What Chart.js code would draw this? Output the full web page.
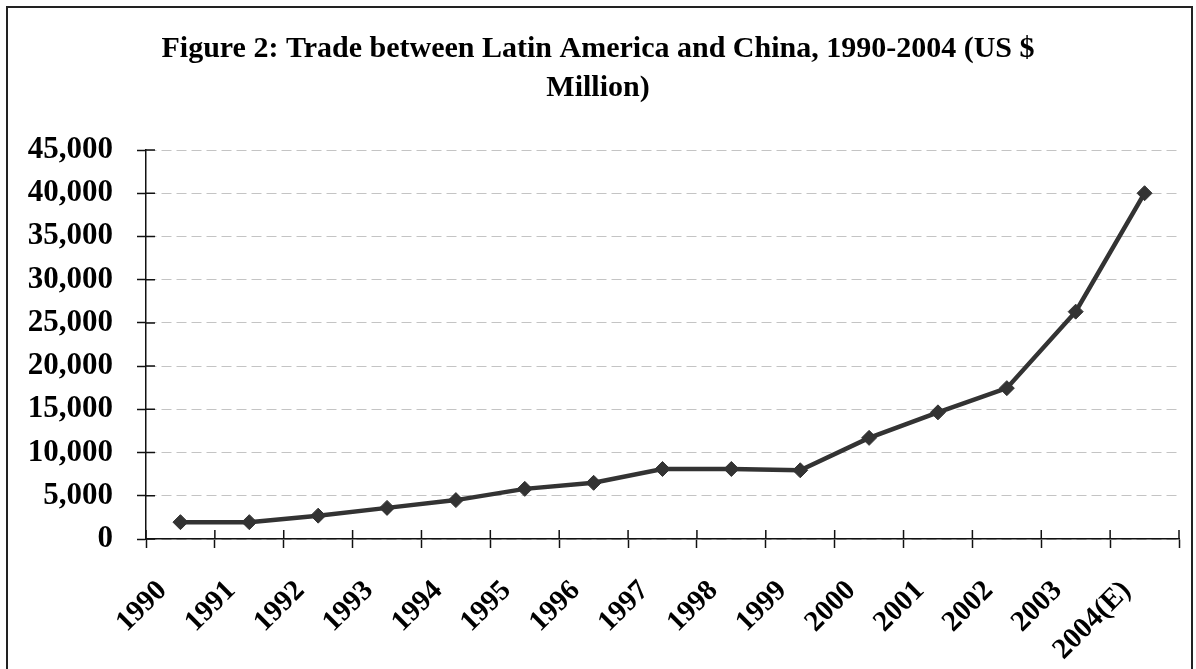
<!DOCTYPE html>
<html>
<head>
    <title>Trade between Latin America and China</title>
    <script src="https://cdn.jsdelivr.net/npm/chart.js"></script>
    <style>
        html, body { margin: 0; padding: 0; background: #fff; overflow: hidden; }
        #wrap { position: relative; width: 1196px; height: 669px; }
        #frame { position: absolute; left: 6px; top: 6px; width: 1187px; height: 680px; border: 2px solid #222; box-sizing: border-box; }
        canvas { position: absolute; left: 0; top: 0; }
    </style>
</head>
<body>
<div id="wrap">
    <div id="frame"></div>
    <canvas id="tradeChart" width="1196" height="669"></canvas>
</div>
<script>
var years = ['1990', '1991', '1992', '1993', '1994', '1995', '1996', '1997', '1998', '1999', '2000', '2001', '2002', '2003', '2004(E)'];
var tradeValues = [1950, 1950, 2700, 3600, 4500, 5800, 6500, 8100, 8100, 7950, 11700, 14650, 17450, 26300, 40000];
var yTicks = [0, 5000, 10000, 15000, 20000, 25000, 30000, 35000, 40000, 45000];
var titleLines = ['Figure 2: Trade between Latin America and China, 1990-2004 (US $', 'Million)'];

var serif = '"Liberation Serif", "Times New Roman", serif';

// short solid tick marks that reach inside the plot, like the original
var innerTicks = {
    id: 'innerTicks',
    afterDatasetsDraw: function(chart) {
        var ctx = chart.ctx, x = chart.scales.x, y = chart.scales.y;
        ctx.save();
        ctx.strokeStyle = '#111';
        ctx.lineWidth = 1.5;
        ctx.beginPath();
        y.ticks.forEach(function(t) {
            var py = y.getPixelForValue(t.value);
            ctx.moveTo(y.right, py);
            ctx.lineTo(y.right + 9, py);
        });
        var step = x.getPixelForValue(1) - x.getPixelForValue(0);
        for (var i = 0; i <= years.length; i++) {
            var px = x.getPixelForValue(i) - step / 2;
            ctx.moveTo(px, x.top);
            ctx.lineTo(px, x.top - 9);
        }
        ctx.stroke();
        ctx.restore();
    }
};

new Chart(document.getElementById('tradeChart'), {
    type: 'line',
    data: {
        labels: years,
        datasets: [{
            data: tradeValues,
            borderColor: '#333333',
            backgroundColor: '#333333',
            borderWidth: 4.5,
            pointStyle: 'rectRot',
            pointRadius: 7.5,
            pointBorderWidth: 1,
            tension: 0,
            fill: false
        }]
    },
    options: {
        responsive: false,
        animation: false,
        devicePixelRatio: 1,
        layout: { padding: 0 },
        plugins: {
            legend: { display: false },
            tooltip: { enabled: false },
            title: {
                display: true,
                text: titleLines,
                color: '#000',
                font: { family: serif, size: 30, weight: 'bold', lineHeight: 1.3 },
                padding: { top: 30, bottom: 42 }
            }
        },
        scales: {
            x: {
                offset: true,
                grid: {
                    offset: true,
                    drawOnChartArea: false,
                    tickLength: 9,
                    tickColor: '#111',
                    tickWidth: 1.5
                },
                border: { color: '#111', width: 1.5 },
                ticks: {
                    color: '#000',
                    font: { family: serif, size: 29, weight: 'bold' },
                    minRotation: 45,
                    maxRotation: 45,
                    padding: 26,
                    labelOffset: -18,
                    autoSkip: false
                },
                afterFit: function(scale) {
                    scale.height = 130;
                    scale.paddingLeft = 0;
                    scale.paddingRight = 17;
                }
            },
            y: {
                min: 0,
                max: 45000,
                afterBuildTicks: function(scale) {
                    scale.ticks = yTicks.map(function(v) { return { value: v }; });
                },
                grid: {
                    color: '#c4c4c4',
                    lineWidth: 1,
                    tickLength: 9,
                    tickColor: '#111',
                    tickWidth: 1.5,
                    tickBorderDash: []
                },
                border: { color: '#111', width: 1.5, dash: [10, 5] },
                ticks: {
                    color: '#000',
                    font: { family: serif, size: 31, weight: 'bold' },
                    padding: 24,
                    callback: function(v) { return v.toLocaleString('en-US'); }
                },
                afterFit: function(scale) { scale.width = 146; }
            }
        }
    },
    plugins: [innerTicks]
});
</script>
</body>
</html>
